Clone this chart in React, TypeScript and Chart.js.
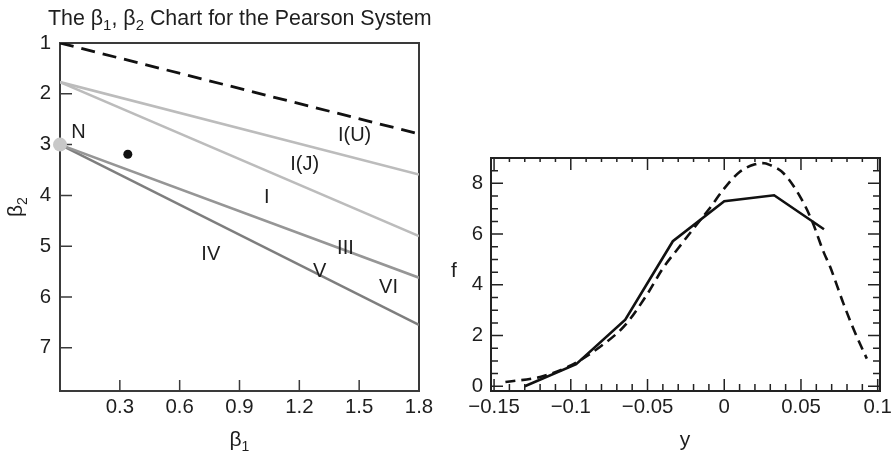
import React, { useEffect, useRef } from "react";
import { Chart, registerables } from "chart.js";

Chart.register(...registerables);

const FONT = "'Liberation Sans', Arial, Helvetica, sans-serif";
const INK = "#1e1e1e";

// ---------- Left chart: beta1 / beta2 Pearson chart ----------
const leftXTicks = [0.3, 0.6, 0.9, 1.2, 1.5, 1.8];
const leftXTickLabels = ["0.3", "0.6", "0.9", "1.2", "1.5", "1.8"];
const leftYTicks = [1, 2, 3, 4, 5, 6, 7];
const leftYTickLabels = ["1", "2", "3", "4", "5", "6", "7"];

const boundaryBeta1 = [0, 1.8];
const limitBeta2 = [1, 2.79];
const typeIUBeta2 = [1.77, 3.59];
const typeIJBeta2 = [1.77, 4.8];
const typeIIIBeta2 = [3, 5.62];
const typeVBeta2 = [3, 6.55];
const normalPoint = { x: 0, y: 3 };
const samplePoint = { x: 0.34, y: 3.19 };

const regionLabels = ["N", "I(U)", "I(J)", "I", "III", "IV", "V", "VI"];
const regionLabelBeta1 = [0.092, 1.477, 1.227, 1.037, 1.431, 0.756, 1.302, 1.647];
const regionLabelBeta2 = [2.76, 2.83, 3.39, 4.05, 5.05, 5.16, 5.49, 5.81];

// ---------- Right chart: frequency vs y ----------
const rightXTicks = [-0.15, -0.1, -0.05, 0, 0.05, 0.1];
const rightXTickLabels = ["\u22120.15", "\u22120.1", "\u22120.05", "0", "0.05", "0.1"];
const rightYTicks = [0, 2, 4, 6, 8];
const rightYTickLabels = ["0", "2", "4", "6", "8"];

const histY = [-0.13, -0.0965, -0.0645, -0.0335, 0, 0.0325, 0.065];
const histF = [0, 0.87, 2.63, 5.72, 7.3, 7.53, 6.19];

const fitY = [-0.1426, -0.12, -0.1, -0.08, -0.0646, -0.05, -0.04, -0.03, -0.02, -0.01, 0, 0.01, 0.02, 0.025, 0.03, 0.0386, 0.0495, 0.057, 0.0647, 0.069, 0.0777, 0.085, 0.0929];
const fitF = [0.17, 0.37, 0.82, 1.6, 2.41, 3.65, 4.65, 5.44, 6.22, 6.98, 7.8, 8.45, 8.75, 8.8, 8.72, 8.4, 7.47, 6.55, 5.3, 4.71, 3.26, 2.15, 1.09];

const pts = (xs: number[], ys: number[]) => xs.map((x, i) => ({ x, y: ys[i] }));

type Part = { t: string; sub?: boolean };

function drawRich(ctx: CanvasRenderingContext2D, parts: Part[], x: number, y: number, size: number) {
  let cx = x;
  for (const p of parts) {
    const s = p.sub ? Math.round(size * 0.68) : size;
    ctx.font = `${s}px ${FONT}`;
    ctx.fillText(p.t, cx, p.sub ? y + size * 0.22 : y);
    cx += ctx.measureText(p.t).width;
  }
  return cx - x;
}

const fixedTicks = (values: number[]) => (scale: any) => {
  scale.ticks = values.map((v) => ({ value: v }));
};

const leftDecor = {
  id: "leftDecor",
  beforeDatasetsDraw(chart: any) {
    const { ctx, chartArea: a, scales } = chart;
    ctx.save();
    ctx.strokeStyle = "#3a3a3a";
    ctx.lineWidth = 2;
    ctx.strokeRect(a.left, a.top, a.right - a.left, a.bottom - a.top);
    ctx.lineWidth = 1.5;
    ctx.beginPath();
    leftYTicks.forEach((v) => {
      const py = scales.y.getPixelForValue(v);
      ctx.moveTo(a.left, py);
      ctx.lineTo(a.left + 12, py);
    });
    leftXTicks.forEach((v) => {
      const px = scales.x.getPixelForValue(v);
      ctx.moveTo(px, a.bottom);
      ctx.lineTo(px, a.bottom - 11);
    });
    ctx.stroke();
    ctx.restore();
  },
  afterDraw(chart: any) {
    const { ctx, scales } = chart;
    ctx.save();
    ctx.fillStyle = INK;
    ctx.textAlign = "center";
    ctx.textBaseline = "middle";
    ctx.font = `20px ${FONT}`;
    regionLabels.forEach((t, i) => {
      ctx.fillText(t, scales.x.getPixelForValue(regionLabelBeta1[i]), scales.y.getPixelForValue(regionLabelBeta2[i]));
    });
    ctx.textAlign = "left";
    ctx.textBaseline = "alphabetic";
    drawRich(ctx, [{ t: "The \u03b2" }, { t: "1", sub: true }, { t: ", \u03b2" }, { t: "2", sub: true }, { t: " Chart for the Pearson System" }], 48, 25, 21.4);
    drawRich(ctx, [{ t: "\u03b2" }, { t: "1", sub: true }], 229.5, 446, 21);
    ctx.translate(22, 217);
    ctx.rotate(-Math.PI / 2);
    drawRich(ctx, [{ t: "\u03b2" }, { t: "2", sub: true }], 0, 0, 21);
    ctx.restore();
  },
};

const rightDecor = {
  id: "rightDecor",
  afterDraw(chart: any) {
    const { ctx, chartArea: a, scales } = chart;
    ctx.save();
    ctx.strokeStyle = "#222";
    ctx.lineWidth = 1.5;
    ctx.beginPath();
    for (let i = -15; i <= 10; i++) {
      const px = scales.x.getPixelForValue(i / 100);
      const major = i % 5 === 0;
      ctx.moveTo(px, a.bottom);
      ctx.lineTo(px, a.bottom - (major ? 12 : 7));
      ctx.moveTo(px, a.top);
      ctx.lineTo(px, a.top + (major ? 12 : 4));
    }
    for (let j = 0; j <= 18; j++) {
      const py = scales.y.getPixelForValue(j / 2);
      const len = j % 4 === 0 ? 12 : 7;
      ctx.moveTo(a.left, py);
      ctx.lineTo(a.left + len, py);
      ctx.moveTo(a.right, py);
      ctx.lineTo(a.right - len, py);
    }
    ctx.stroke();
    ctx.lineWidth = 2;
    ctx.strokeRect(a.left, a.top, a.right - a.left, a.bottom - a.top);

    ctx.fillStyle = INK;
    ctx.font = `21px ${FONT}`;
    ctx.textAlign = "center";
    ctx.textBaseline = "alphabetic";
    ctx.fillText("y", 685 - 447, 446);
    ctx.fillText("f", 454 - 447, 277);
    ctx.restore();
  },
};

const tickFont = { family: FONT, size: 20.4 };

export default function App() {
  const leftRef = useRef<HTMLCanvasElement>(null);
  const rightRef = useRef<HTMLCanvasElement>(null);

  useEffect(() => {
    const left = new Chart(leftRef.current!, {
      type: "scatter",
      data: {
        datasets: [
          { data: [normalPoint], pointRadius: 7, backgroundColor: "#c8c8c8", borderColor: "#c8c8c8", borderWidth: 0, showLine: false, clip: false } as any,
          { data: [samplePoint], pointRadius: 4.5, backgroundColor: "#111", borderColor: "#111", borderWidth: 0, showLine: false, clip: false } as any,
          { data: pts(boundaryBeta1, limitBeta2), showLine: true, borderColor: "#111", borderWidth: 2.8, borderDash: [14, 8], pointRadius: 0 },
          { data: pts(boundaryBeta1, typeIUBeta2), showLine: true, borderColor: "#bcbcbc", borderWidth: 2.6, pointRadius: 0 },
          { data: pts(boundaryBeta1, typeIJBeta2), showLine: true, borderColor: "#bcbcbc", borderWidth: 2.6, pointRadius: 0 },
          { data: pts(boundaryBeta1, typeIIIBeta2), showLine: true, borderColor: "#969696", borderWidth: 2.6, pointRadius: 0 },
          { data: pts(boundaryBeta1, typeVBeta2), showLine: true, borderColor: "#7e7e7e", borderWidth: 2.6, pointRadius: 0 },
        ],
      },
      options: {
        responsive: false,
        animation: false,
        events: [],
        layout: { padding: { top: 43, right: 28, left: 0, bottom: 0 } },
        plugins: { legend: { display: false }, tooltip: { enabled: false } },
        scales: {
          x: {
            type: "linear",
            min: 0,
            max: 1.8,
            grid: { display: false, drawTicks: false },
            border: { display: false },
            afterBuildTicks: fixedTicks(leftXTicks),
            afterFit: (s: any) => { s.height = 64; s.paddingLeft = 0; s.paddingRight = 0; },
            ticks: { font: tickFont, color: INK, padding: 4.5, autoSkip: false, maxRotation: 0, callback: (_v: any, i: number) => leftXTickLabels[i] },
          },
          y: {
            type: "linear",
            reverse: true,
            min: 1,
            max: 7.85,
            grid: { display: false, drawTicks: false },
            border: { display: false },
            afterBuildTicks: fixedTicks(leftYTicks),
            afterFit: (s: any) => { s.width = 60; s.paddingTop = 0; s.paddingBottom = 0; },
            ticks: { font: tickFont, color: INK, padding: 9, autoSkip: false, callback: (_v: any, i: number) => leftYTickLabels[i] },
          },
        },
      },
      plugins: [leftDecor],
    } as any);

    const right = new Chart(rightRef.current!, {
      type: "line",
      data: {
        datasets: [
          { data: pts(histY, histF), borderColor: "#111", borderWidth: 2.6, pointRadius: 0, tension: 0, fill: false },
          { data: pts(fitY, fitF), borderColor: "#111", borderWidth: 2.6, borderDash: [10, 6], pointRadius: 0, cubicInterpolationMode: "monotone", fill: false },
        ],
      },
      options: {
        responsive: false,
        animation: false,
        events: [],
        layout: { padding: { top: 158, right: 14, left: 0, bottom: 0 } },
        plugins: { legend: { display: false }, tooltip: { enabled: false } },
        scales: {
          x: {
            type: "linear",
            min: -0.152,
            max: 0.1015,
            grid: { display: false, drawTicks: false },
            border: { display: false },
            afterBuildTicks: fixedTicks(rightXTicks),
            afterFit: (s: any) => { s.height = 64; s.paddingLeft = 0; s.paddingRight = 0; },
            ticks: { font: tickFont, color: INK, padding: 4, autoSkip: false, maxRotation: 0, callback: (_v: any, i: number) => rightXTickLabels[i] },
          },
          y: {
            type: "linear",
            min: -0.185,
            max: 9,
            grid: { display: false, drawTicks: false },
            border: { display: false },
            afterBuildTicks: fixedTicks(rightYTicks),
            afterFit: (s: any) => { s.width = 44; s.paddingTop = 0; s.paddingBottom = 0; },
            ticks: { font: tickFont, color: INK, padding: 8, autoSkip: false, callback: (_v: any, i: number) => rightYTickLabels[i] },
          },
        },
      },
      plugins: [rightDecor],
    } as any);

    return () => {
      left.destroy();
      right.destroy();
    };
  }, []);

  return (
    <div style={{ position: "absolute", left: 0, top: 0, width: 894, height: 455, background: "#fff" }}>
      <canvas ref={leftRef} width={447} height={455} style={{ position: "absolute", left: 0, top: 0, width: 447, height: 455 }} />
      <canvas ref={rightRef} width={447} height={455} style={{ position: "absolute", left: 447, top: 0, width: 447, height: 455 }} />
    </div>
  );
}
